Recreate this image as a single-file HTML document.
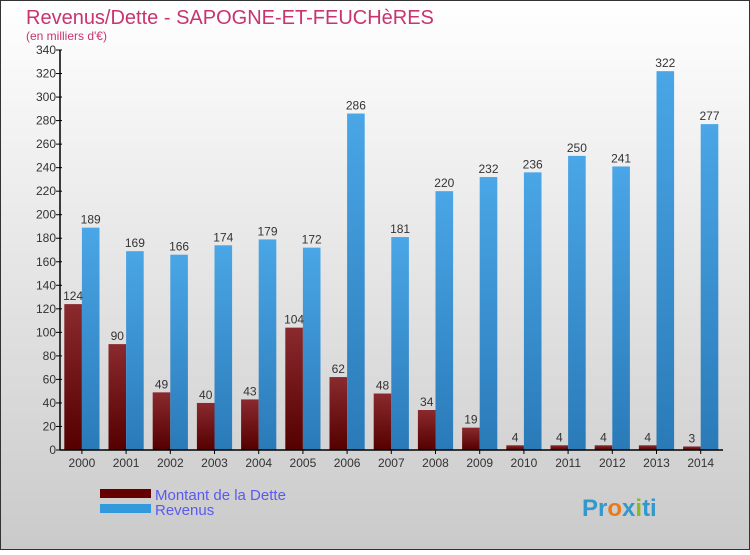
<!DOCTYPE html>
<html><head><meta charset="utf-8"><style>
body{margin:0;width:750px;height:550px;overflow:hidden;font-family:"Liberation Sans",sans-serif}
</style></head><body>
<svg width="750" height="550" xmlns="http://www.w3.org/2000/svg">
<defs>
<linearGradient id="bg" x1="0" y1="0" x2="0" y2="1"><stop offset="0" stop-color="#ffffff"/><stop offset="1" stop-color="#cacaca"/></linearGradient>
<linearGradient id="gd" x1="0" y1="0" x2="0" y2="1"><stop offset="0" stop-color="#8a2a2e"/><stop offset="1" stop-color="#550000"/></linearGradient>
<linearGradient id="gr" x1="0" y1="0" x2="0" y2="1"><stop offset="0" stop-color="#4aa6e6"/><stop offset="1" stop-color="#2a7ab8"/></linearGradient>
</defs>
<rect x="0.5" y="0.5" width="749" height="549" fill="url(#bg)" stroke="#333"/>
<text x="26" y="24" font-size="20" fill="#c8346e">Revenus/Dette - SAPOGNE-ET-FEUCHèRES</text>
<text x="26" y="40" font-size="12" fill="#c8346e">(en milliers d'€)</text>
<g id="plot"></g>
<rect x="100" y="489" width="51" height="9" fill="#660000"/>
<rect x="100" y="504" width="51" height="9" fill="#3399dd"/>
<text x="155" y="500" font-size="15" fill="#5a5aee">Montant de la Dette</text>
<text x="155" y="515" font-size="15" fill="#5a5aee">Revenus</text>
<text x="582" y="516" font-size="24" font-weight="bold" fill="#3399cc"><tspan fill="#3399cc">Pr</tspan><tspan fill="#e87a1a">o</tspan><tspan fill="#3399cc">x</tspan><tspan fill="#88bb22">i</tspan><tspan fill="#3399cc">ti</tspan></text>
</svg>
<script>
const years=["2000","2001","2002","2003","2004","2005","2006","2007","2008","2009","2010","2011","2012","2013","2014"];
const dette=[124,90,49,40,43,104,62,48,34,19,4,4,4,4,3];
const revenus=[189,169,166,174,179,172,286,181,220,232,236,250,241,322,277];
const yTicks=[0,20,40,60,80,100,120,140,160,180,200,220,240,260,280,300,320,340];
const NS="http://www.w3.org/2000/svg";
const g=document.getElementById('plot');
const x0=60,gw=44.2,bw=17.6,y0=450,ymax=340,h=400;
const y=v=>y0-v/ymax*h;
function mk(t,a,txt){const e=document.createElementNS(NS,t);for(const k in a)e.setAttribute(k,a[k]);if(txt!==undefined)e.textContent=txt;g.appendChild(e);return e;}
years.forEach((yr,i)=>{
 const gx=x0+i*gw;
 let r=mk('rect',{x:gx+4.3,y:y(dette[i]),width:bw,height:y0-y(dette[i]),fill:'url(#gd)'});
 
 
 r=mk('rect',{x:gx+4.3+bw,y:y(revenus[i]),width:bw,height:y0-y(revenus[i]),fill:'url(#gr)'});
 
 
 let t=mk('text',{x:gx+4.3+bw/2,y:y(dette[i])-4,'font-size':12,fill:'#333','text-anchor':'middle'},dette[i]);
 
 
 t=mk('text',{x:gx+4.3+bw*1.5,y:y(revenus[i])-4,'font-size':12,fill:'#333','text-anchor':'middle'},revenus[i]);
 
 
 t=mk('text',{x:gx+4.3+bw,y:467,'font-size':12,fill:'#333','text-anchor':'middle'},yr);
 
 
 mk('line',{x1:gx+4.3+bw,x2:gx+4.3+bw,y1:450,y2:454,stroke:'#000'});
});
yTicks.forEach(v=>{
 mk('line',{x1:56,x2:62,y1:y(v),y2:y(v),stroke:'#000'});
 const t=mk('text',{x:56,y:y(v)+4,'font-size':12,fill:'#333','text-anchor':'end'},v);
 
 
});
let a=mk('line',{x1:60,x2:60,y1:50,y2:450,stroke:'#000','stroke-width':1.5});


a=mk('line',{x1:60,x2:723,y1:450,y2:450,stroke:'#000','stroke-width':1.5});


</script>
</body></html>
